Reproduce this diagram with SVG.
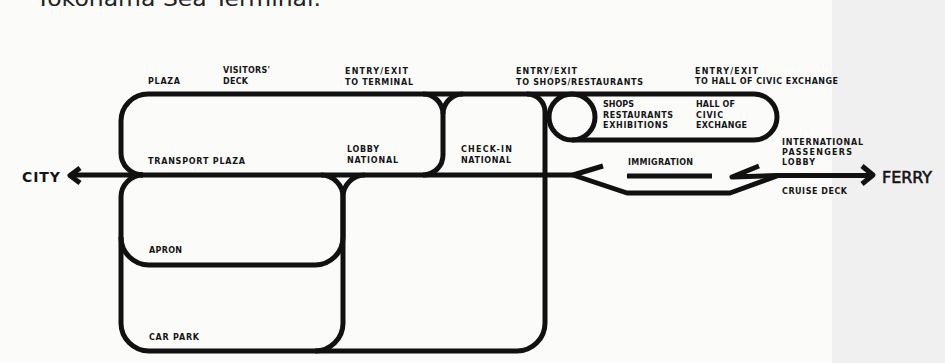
<svg xmlns="http://www.w3.org/2000/svg" width="945" height="363" viewBox="0 0 945 363">
<style>
.ln{fill:none;stroke:#111;stroke-width:5;stroke-linejoin:round;stroke-linecap:butt}
.lb{font-family:"DejaVu Sans","Liberation Sans",sans-serif;font-weight:bold;font-size:8px;fill:#151515}
.big{font-family:"DejaVu Sans","Liberation Sans",sans-serif;fill:#151515;stroke:#151515;stroke-width:0.6}
.title{font-family:"DejaVu Sans","Open Sans",sans-serif;font-size:22px;fill:#222}
</style>
<rect x="0" y="0" width="945" height="363" fill="#fbfbfa"/>
<rect x="832" y="0" width="113" height="363" fill="#f0f0f0"/>
<text class="title" x="36" y="6" textLength="285" lengthAdjust="spacingAndGlyphs">Yokohama Sea Terminal.</text>

<g id="connectors">
  <path class="ln" d="M70 175 H573"/>
  <path class="ln" d="M80 168 L70 175.5 L80 183"/>
  <path class="ln" d="M573 175 L603 166"/>
  <path class="ln" d="M573 175 L627 193 H730 L777 176"/>
  <path class="ln" d="M627 176 H712"/>
  <path class="ln" d="M759 166 L732 177 L777 175.5 H872"/>
  <path class="ln" d="M862 166 L873 175 L862 184"/>
</g>

<g id="plaza">
  <path class="ln" d="M148 94 H754"/>
  <path class="ln" d="M148 94 A27 27 0 0 0 121 121 V153 A22 22 0 0 0 143 175"/>
  <path class="ln" d="M423 94 A20 20 0 0 1 443 114 V155 A20 20 0 0 1 423 175"/>
  <text class="lb" x="148" y="84" textLength="32">PLAZA</text>
  <text class="lb" x="223" y="73" textLength="47">VISITORS'</text>
  <text class="lb" x="223" y="84" textLength="25">DECK</text>
  <text class="lb" x="148" y="164" textLength="97">TRANSPORT PLAZA</text>
  <text class="lb" x="345" y="74" textLength="63">ENTRY/EXIT</text>
  <text class="lb" x="345" y="85" textLength="68">TO TERMINAL</text>
  <text class="lb" x="347" y="152" textLength="32">LOBBY</text>
  <text class="lb" x="347" y="163" textLength="51">NATIONAL</text>
</g>

<g id="checkin">
  <path class="ln" d="M463 94 A20 20 0 0 0 443 114"/>
  <path class="ln" d="M527 94 A18 18 0 0 1 545 112 V323 A28 28 0 0 1 517 351 H149"/>
  <text class="lb" x="461" y="152" textLength="51">CHECK-IN</text>
  <text class="lb" x="461" y="163" textLength="50">NATIONAL</text>
  <text class="lb" x="516" y="74" textLength="61">ENTRY/EXIT</text>
  <text class="lb" x="516" y="85" textLength="127">TO SHOPS/RESTAURANTS</text>
</g>

<g id="shops">
  <circle class="ln" cx="572" cy="117" r="23"/>
  <path class="ln" d="M754 94 A23 23 0 0 1 754 140 H572"/>
  <text class="lb" x="603" y="107" textLength="31">SHOPS</text>
  <text class="lb" x="603" y="118" textLength="70">RESTAURANTS</text>
  <text class="lb" x="603" y="128" textLength="65">EXHIBITIONS</text>
  <text class="lb" x="696" y="107" textLength="39">HALL OF</text>
  <text class="lb" x="696" y="118" textLength="27">CIVIC</text>
  <text class="lb" x="696" y="128" textLength="51">EXCHANGE</text>
  <text class="lb" x="695" y="74" textLength="63">ENTRY/EXIT</text>
  <text class="lb" x="695" y="84" textLength="143">TO HALL OF CIVIC EXCHANGE</text>
</g>

<g id="apron">
  <path class="ln" d="M321 175 A22 22 0 0 1 343 197 V237 A28 28 0 0 1 315 265 H149 A28 28 0 0 1 121 237"/>
  <text class="lb" x="149" y="253" textLength="33">APRON</text>
</g>

<g id="carpark">
  <path class="ln" d="M143 175 A22 22 0 0 0 121 197 V323 A28 28 0 0 0 149 351"/>
  <path class="ln" d="M365 175 A22 22 0 0 0 343 197 V323 A28 28 0 0 1 315 351"/>
  <text class="lb" x="149" y="340" textLength="50">CAR PARK</text>
</g>

<g id="immigration">
  <text class="lb" x="628" y="165" textLength="65">IMMIGRATION</text>
</g>

<g id="intl">
  <text class="lb" x="782" y="145" textLength="81">INTERNATIONAL</text>
  <text class="lb" x="782" y="155" textLength="70">PASSENGERS</text>
  <text class="lb" x="782" y="165" textLength="33">LOBBY</text>
  <text class="lb" x="782" y="194" textLength="65">CRUISE DECK</text>
</g>

<g id="city">
  <text class="big" x="22" y="182" style="font-size:14px;font-weight:bold;stroke-width:0" textLength="38" lengthAdjust="spacing">CITY</text>
</g>
<g id="ferry">
  <text class="big" x="882" y="183" style="font-size:16px" textLength="50" lengthAdjust="spacingAndGlyphs">FERRY</text>
</g>
</svg>
